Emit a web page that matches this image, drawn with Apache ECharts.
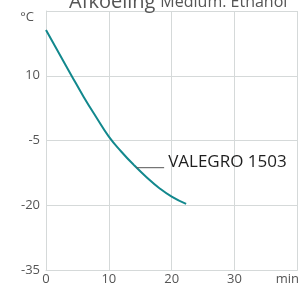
<!DOCTYPE html>
<html>
<head>
<meta charset="utf-8">
<script src="https://cdn.jsdelivr.net/npm/echarts@6/dist/echarts.min.js"></script>
<style>
  html, body { margin: 0; padding: 0; background: #fff; }
  #chart { width: 302px; height: 286px; }
</style>
</head>
<body>
<div id="chart"></div>
<script>
// cooling curve (minutes, °C)
const minutes = [0, 2, 4, 6, 8, 10, 12, 14, 16, 18, 20, 22.3]
const temps = [20.6, 15.4, 10.2, 5.1, 0.4, -4.1, -7.6, -10.7, -13.5, -16, -18, -19.7]
const seriesName = 'VALEGRO 1503'
// leader line from the curve to the label
const leaderX = [14.4, 18.8]
const leaderY = -11.3

const chart = echarts.init(document.getElementById('chart'))
const font = '"Open Sans", sans-serif'

chart.setOption({
  animation: false,
  title: {
    text: '{a|Afkoeling} {b|Medium: Ethanol}',
    left: 64,
    top: -13,
    textStyle: {
      fontWeight: 'normal',
      rich: {
        a: { fontFamily: font, fontSize: 20, fontWeight: 'normal', color: '#555' },
        b: { fontFamily: font, fontSize: 16, fontWeight: 'normal', color: '#555' },
      },
    },
  },
  grid: { left: 46, right: 4, top: 11, bottom: 16 },
  xAxis: {
    type: 'value',
    min: 0,
    max: 40,
    interval: 10,
    axisLine: { onZero: false, lineStyle: { color: '#d5d9d9' } },
    axisTick: { show: false },
    splitLine: { lineStyle: { color: '#d5d9d9' } },
    axisLabel: {
      margin: 3,
      fontFamily: font,
      fontSize: 13,
      color: '#555',
      formatter: v => v === 40 ? '{m|min}' : String(v),
      rich: { m: { fontFamily: font, fontSize: 13, color: '#555', padding: [0, 20, 0, 0] } },
    },
  },
  yAxis: {
    type: 'value',
    min: -35,
    max: 25,
    interval: 15,
    axisLine: { show: true, lineStyle: { color: '#d5d9d9' } },
    axisTick: { show: false },
    splitLine: { lineStyle: { color: '#d5d9d9' } },
    axisLabel: {
      margin: 6,
      fontFamily: font,
      fontSize: 13,
      color: '#555',
      formatter: v => v === 25 ? '{c|°C}' : String(v),
      rich: { c: { fontFamily: font, fontSize: 13, color: '#555', padding: [12, 6, 0, 0] } },
    },
  },
  series: [
    {
      name: seriesName,
      type: 'line',
      smooth: true,
      showSymbol: false,
      data: minutes.map((m, i) => [m, temps[i]]),
      lineStyle: { color: '#12888d', width: 2 },
    },
    {
      type: 'line',
      showSymbol: false,
      data: leaderX.map(x => [x, leaderY]),
      lineStyle: { color: '#555', width: 1 },
      endLabel: {
        show: true,
        formatter: seriesName,
        fontFamily: font,
        fontSize: 17,
        color: '#1e1e1e',
        distance: 4,
        offset: [0, -6],
      },
    },
  ],
})
</script>
</body>
</html>
